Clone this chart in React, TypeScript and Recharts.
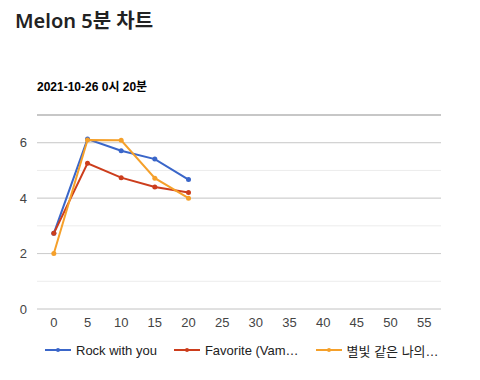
import React from 'react';
import { LineChart, Line, XAxis, YAxis, CartesianGrid, ReferenceLine } from 'recharts';

const minutes = [0, 5, 10, 15, 20];
const rockWithYou = [2.73, 6.13, 5.71, 5.41, 4.67];
const favorite = [2.73, 5.26, 4.74, 4.4, 4.2];
const starlight = [2.0, 6.1, 6.09, 4.72, 4.0];

const seriesKeys = ['rock', 'favorite', 'starlight'];
const seriesNames = ['Rock with you', 'Favorite (Vampire)', '별빛 같은 나의 사랑아'];
const legendLabels = ['Rock with you', 'Favorite (Vam…', '별빛 같은 나의…'];
const seriesColors = ['#3a66c9', '#cc3d1c', '#f5a02a'];

const xTicks = [0, 5, 10, 15, 20, 25, 30, 35, 40, 45, 50, 55];
const yTicks = [0, 1, 2, 3, 4, 5, 6, 7];
const majorY = [0, 2, 4, 6];
const topY = 7;

const title = 'Melon 5분 차트';
const subtitle = '2021-10-26 0시 20분';

const data = minutes.map((m, i) => ({
  minute: m,
  rock: rockWithYou[i],
  favorite: favorite[i],
  starlight: starlight[i],
}));

const font = 'Arial, "Liberation Sans", "Noto Sans CJK KR", sans-serif';

export default function App() {
  return (
    <div
      style={{
        position: 'fixed',
        top: 0,
        left: 0,
        width: 480,
        height: 380,
        background: '#fff',
        overflow: 'hidden',
      }}
    >
      <div
        style={{
          position: 'absolute',
          left: 15,
          top: 7,
          fontFamily: '"Noto Sans", "Noto Sans CJK KR", sans-serif',
          fontWeight: 600,
          fontSize: 20,
          color: '#222',
          lineHeight: '28px',
          whiteSpace: 'nowrap',
        }}
      >
        {title}
      </div>
      <div
        style={{
          position: 'absolute',
          left: 37,
          top: 79,
          fontFamily: font,
          fontWeight: 700,
          fontSize: 12,
          color: '#000',
          lineHeight: '16px',
          whiteSpace: 'nowrap',
        }}
      >
        {subtitle}
      </div>
      <div style={{ position: 'absolute', left: 0, top: 0 }}>
        <LineChart
          width={480}
          height={340}
          data={data}
          margin={{ top: 115, right: 39, left: 0, bottom: 1 }}
        >
          <CartesianGrid vertical={false} stroke="#ececec" />
          <XAxis
            dataKey="minute"
            type="number"
            domain={[-2.5, 57.5]}
            ticks={xTicks}
            axisLine={false}
            tickLine={false}
            tickMargin={3}
            tick={{ fontSize: 13, fill: '#444', fontFamily: font }}
            interval={0}
          />
          <YAxis
            type="number"
            domain={[0, 7]}
            ticks={yTicks}
            width={37}
            axisLine={false}
            tickLine={false}
            tickMargin={4}
            interval={0}
            tickFormatter={(v: number) => (majorY.includes(v) ? String(v) : '')}
            tick={{ fontSize: 13, fill: '#444', fontFamily: font }}
          />
          {majorY.map((y) => (
            <ReferenceLine key={y} y={y} stroke="#cccccc" strokeWidth={1} />
          ))}
          <ReferenceLine y={topY} stroke="#999999" strokeWidth={1} />
          {seriesKeys.map((k, i) => (
            <Line
              key={k}
              dataKey={k}
              name={seriesNames[i]}
              stroke={seriesColors[i]}
              strokeWidth={2}
              dot={{ r: 2.5, fill: seriesColors[i], stroke: seriesColors[i], strokeWidth: 0 }}
              isAnimationActive={false}
            />
          ))}
        </LineChart>
      </div>
      <div
        style={{
          position: 'absolute',
          left: 45,
          top: 341,
          display: 'flex',
          alignItems: 'center',
          fontFamily: font,
          fontSize: 13,
          color: '#222',
          whiteSpace: 'nowrap',
        }}
      >
        {legendLabels.map((lab, i) => (
          <div key={lab} style={{ display: 'flex', alignItems: 'center', marginRight: 17, height: 18 }}>
            <svg width={26} height={8} style={{ marginRight: 5 }}>
              <line x1={0} y1={4} x2={26} y2={4} stroke={seriesColors[i]} strokeWidth={2} />
              <circle cx={13} cy={4} r={2} fill={seriesColors[i]} />
            </svg>
            <span>{lab}</span>
          </div>
        ))}
      </div>
    </div>
  );
}
